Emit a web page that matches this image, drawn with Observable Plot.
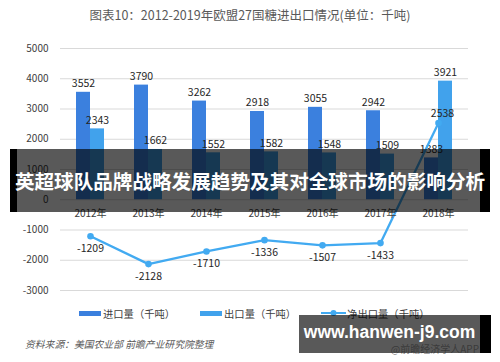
<!DOCTYPE html>
<html>
<head>
<meta charset="utf-8">
<script src="https://cdn.jsdelivr.net/npm/d3@7"></script>
<script src="https://cdn.jsdelivr.net/npm/@observablehq/plot@0.6"></script>
<style>
  html, body { margin: 0; padding: 0; background: #fff; }
  body { width: 500px; height: 362px; position: relative; overflow: hidden;
         font-family: "Noto Sans CJK SC", "Noto Sans", sans-serif; color: #595959; }
  #title { position: absolute; left: 0; top: 6px; width: 500px; text-align: center;
           font-size: 12.5px; line-height: 18px; color: #595959; }
  #chart { position: absolute; left: 0; top: 30px; }
  #legend { position: absolute; top: 305px; left: 79px; height: 16px; display: flex; align-items: center;
            font-size: 10.3px; color: #404040; white-space: nowrap; }
  .sw { display: inline-block; width: 22px; height: 5px; margin-right: 2px; }
  .item { display: flex; align-items: center; margin-right: 25px; }
  #source { position: absolute; left: 25px; top: 337px; font-size: 9.8px; font-style: italic;
            color: #595959; white-space: nowrap; }
  #banner { position: absolute; left: 10px; top: 149px; width: 480px; height: 63px; }
  #banner .edgeL { position: absolute; left: 0; top: 0; width: 7px; height: 100%; background: #000; }
  #banner .edgeR { position: absolute; right: 0; top: 0; width: 10px; height: 100%; background: #000; }
  #banner .mid { position: absolute; left: 7px; right: 10px; top: 0; height: 100%; background: rgba(0,0,0,0.65); }
  #banner .txt { position: absolute; left: 0; width: 480px; top: 20px; text-align: center; color: #fff;
                 font-weight: bold; font-size: 19.6px; line-height: 24px; white-space: nowrap; letter-spacing: 0px; }
  #wm { position: absolute; left: 299px; top: 315px; width: 192px; height: 38px; }
  #wm .mid { position: absolute; left: 0; top: 0; width: 181px; height: 100%; background: rgba(0,0,0,0.65); }
  #wm .edgeR { position: absolute; left: 181px; top: 0; width: 11px; height: 100%; background: #000; }
  #wm .txt { position: absolute; left: 0; width: 181px; top: 6px; text-align: center; color: #fff;
             font-family: "Liberation Sans", Arial, sans-serif; font-weight: bold; font-size: 17.5px; line-height: 22px; }
  #wm .sub { position: absolute; right: 12px; top: 26px; font-size: 10px; color: rgba(30,30,30,0.55); white-space: nowrap; }
</style>
</head>
<body>
<div id="title">图表10：2012-2019年欧盟27国糖进出口情况(单位：千吨)</div>
<div id="chart"></div>
<div id="legend"></div>
<div id="source">资料来源：美国农业部 前瞻产业研究院整理</div>
<div id="banner"><div class="edgeL"></div><div class="mid"></div><div class="edgeR"></div>
  <div class="txt">英超球队品牌战略发展趋势及其对全球市场的影响分析</div></div>
<div id="wm"><div class="mid"></div><div class="edgeR"></div>
  <div class="sub">@前瞻经济学人APP</div>
  <div class="txt">www.hanwen-j9.com</div></div>
<script>
// ---- data ----
const years = ["2012年", "2013年", "2014年", "2015年", "2016年", "2017年", "2018年"];
const importValues = [3552, 3790, 3262, 2918, 3055, 2942, 1383];
const exportValues = [2343, 1662, 1552, 1582, 1548, 1509, 3921];
const netValues = [-1209, -2128, -1710, -1336, -1507, -1433, 2538];
const yTicks = [-3000, -2000, -1000, 0, 1000, 2000, 3000, 4000, 5000];
const seriesNames = ["进口量（千吨）", "出口量（千吨）", "净出口量（千吨）"];

const importColor = "#3b80de";
const exportColor = "#41a2ec";
const netColor = "#42aaf1";

const imports = years.map((y, i) => ({year: y, value: importValues[i]}));
const exportsData = years.map((y, i) => ({year: y, value: exportValues[i]}));
const net = years.map((y, i) => ({year: y, value: netValues[i]}));

const font = '"Noto Sans CJK SC", "Noto Sans", sans-serif';

const chart = Plot.plot({
  width: 500,
  height: 275,
  marginLeft: 60,
  marginRight: 32,
  marginTop: 18,
  marginBottom: 15,
  style: {fontFamily: font, fontSize: "10px", background: "transparent", color: "#404040"},
  x: {domain: years, type: "band", paddingInner: 0.52, paddingOuter: 0.26, axis: null},
  y: {domain: [-3000, 5000], axis: null},
  marks: [
    Plot.ruleY(yTicks, {stroke: "#d9d9d9", strokeWidth: 1}),
    Plot.text(yTicks, {y: d => d, frameAnchor: "left", textAnchor: "end", dx: -12,
      text: d => String(d), fill: "#404040", fontSize: 10}),
    Plot.barY(imports, {x: "year", y: "value", fill: importColor, insetRight: 14}),
    Plot.barY(exportsData, {x: "year", y: "value", fill: exportColor, insetLeft: 14}),
    Plot.text(imports, {x: "year", y: "value", text: d => String(d.value), dx: -7, dy: -5,
      lineAnchor: "bottom", fill: "#262626", fontSize: 10.5}),
    Plot.text(exportsData, {x: "year", y: "value", text: d => String(d.value), dx: 7, dy: -5,
      lineAnchor: "bottom", fill: "#262626", fontSize: 10.5}),
    Plot.line(net, {x: "year", y: "value", stroke: netColor, strokeWidth: 2.3}),
    Plot.dot(net, {x: "year", y: "value", fill: netColor, r: 3.3}),
    Plot.text(net.filter(d => d.value < 0), {x: "year", y: "value", text: d => String(d.value),
      lineAnchor: "top", dy: 8, fill: "#262626", fontSize: 10.5}),
    Plot.text(net.filter(d => d.value >= 0), {x: "year", y: "value", text: d => String(d.value),
      lineAnchor: "bottom", dy: -6, dx: 4, fill: "#262626", fontSize: 10.5}),
    Plot.text(years, {x: d => d, y: d => 0, text: d => d, dy: 14, fill: "#404040", fontSize: 10})
  ]
});
document.getElementById("chart").appendChild(chart);

// ---- legend ----
const legend = document.getElementById("legend");
const legendColors = [importColor, exportColor, netColor];
seriesNames.forEach((name, i) => {
  const item = document.createElement("div");
  item.className = "item";
  if (i < 2) {
    const sw = document.createElement("span");
    sw.className = "sw";
    sw.style.background = legendColors[i];
    item.appendChild(sw);
  } else {
    const svg = document.createElementNS("http://www.w3.org/2000/svg", "svg");
    svg.setAttribute("width", "25"); svg.setAttribute("height", "8");
    svg.style.marginRight = "1px";
    svg.innerHTML = `<line x1="0" y1="4" x2="25" y2="4" stroke="${netColor}" stroke-width="2"/>` +
                    `<circle cx="12.5" cy="4" r="3" fill="${netColor}"/>`;
    item.appendChild(svg);
  }
  const t = document.createElement("span");
  t.textContent = name;
  item.appendChild(t);
  legend.appendChild(item);
});
</script>
</body>
</html>
